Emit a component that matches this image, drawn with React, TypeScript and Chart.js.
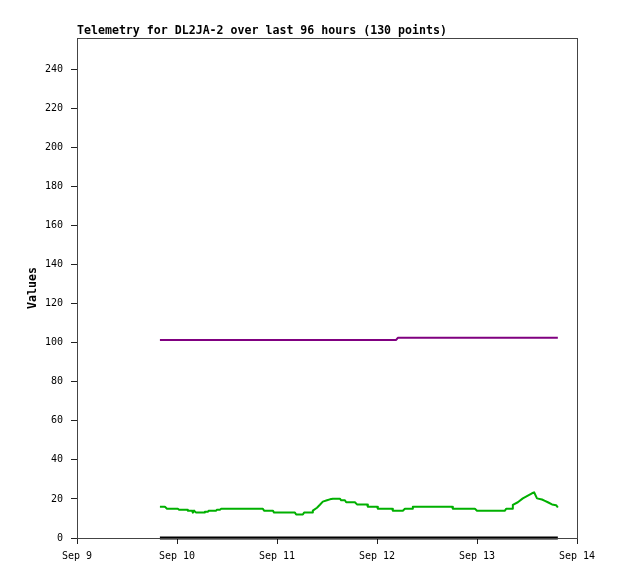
import { useEffect, useRef } from "react";
import { Chart, registerables } from "chart.js";

Chart.register(...registerables);

const chartTitle = "Telemetry for DL2JA-2 over last 96 hours (130 points)";
const yAxisTitle = "Values";
const firstDay = 9;
const monthName = "Sep";

// hours since Sep 9 00:00
const greenHours = [
  19.9, 21.1, 21.6, 24.2, 24.5, 26.4, 26.6, 27.6, 27.8, 28.1, 28.6, 30.5, 30.7, 31.4, 31.7, 33.4,
  33.6, 34.3, 34.6, 44.6, 44.9, 47.0, 47.3, 52.3, 52.6, 54.2, 54.5, 56.4, 56.6, 57.6, 58.3, 59.0,
  60.0, 60.7, 61.4, 63.1, 63.4, 64.3, 64.6, 66.7, 67.2, 69.6, 69.8, 72.0, 72.2, 75.6, 75.8, 78.2,
  78.7, 80.4, 80.6, 90.0, 90.2, 95.5, 96.0, 102.7, 103.0, 104.4, 104.6, 105.8, 107.0, 108.2, 109.2,
  109.7, 110.4, 111.6, 112.3, 113.0, 114.0, 115.0, 115.4,
];
const greenValues = [
  16, 16, 15, 15, 14.5, 14.5, 14, 14, 13, 14, 13, 13, 13.5, 13.5, 14, 14,
  14.5, 14.5, 15, 15, 14, 14, 13, 13, 12, 12, 13, 13, 14, 15.5, 17, 18.6,
  19.3, 19.8, 20.1, 20.1, 19.3, 19.3, 18.3, 18.3, 17.2, 17.2, 16, 16, 15, 15, 14, 14,
  15, 15, 16, 16, 15, 15, 14, 14, 15, 15, 17, 18.3, 20.3, 21.7, 22.9,
  23.4, 20.3, 19.7, 19, 18.3, 17.2, 16.8, 15.6,
];
const purpleHours = [19.9, 76.6, 77.0, 115.4];
const purpleValues = [101.4, 101.4, 102.5, 102.5];
const blackHours = [19.9, 115.4];
const blackValues = [0, 0];

const yTicksStep = 20;
const yMax = 256;
const xMaxHours = 120;

const toPoints = (xs: number[], ys: number[]) => xs.map((x, i) => ({ x, y: ys[i] }));

const FONT = "'DejaVu Sans Mono', 'Liberation Mono', monospace";

export default function App() {
  const ref = useRef<HTMLCanvasElement | null>(null);

  useEffect(() => {
    document.body.style.margin = "0";
    const canvas = ref.current;
    if (!canvas) return;

    const decor = {
      id: "decor",
      afterDraw(chart: any) {
        const { ctx, chartArea } = chart;
        ctx.save();
        ctx.strokeStyle = "#444";
        ctx.lineWidth = 1;
        ctx.strokeRect(chartArea.left + 0.5, chartArea.top + 0.5, chartArea.right - chartArea.left, chartArea.bottom - chartArea.top);
        ctx.fillStyle = "#000";
        ctx.font = `bold 11.6px ${FONT}`;
        ctx.textAlign = "left";
        ctx.textBaseline = "alphabetic";
        ctx.fillText(chartTitle, chartArea.left, chartArea.top - 4);
        ctx.translate(36, (chartArea.top + chartArea.bottom) / 2);
        ctx.rotate(-Math.PI / 2);
        ctx.textAlign = "center";
        ctx.fillText(yAxisTitle, 0, 0);
        ctx.restore();
      },
    };

    const chart = new Chart(canvas, {
      type: "line",
      data: {
        datasets: [
          { data: toPoints(purpleHours, purpleValues), borderColor: "#800080", borderWidth: 2 },
          { data: toPoints(greenHours, greenValues), borderColor: "#00b000", borderWidth: 2 },
          { data: toPoints(blackHours, blackValues), borderColor: "#000000", borderWidth: 3 },
        ] as any,
      },
      options: {
        animation: false,
        responsive: false,
        clip: false as any,
        parsing: false as any,
        elements: {
          point: { radius: 0 },
          line: { tension: 0, borderJoinStyle: "round", borderCapStyle: "butt" },
        },
        layout: { padding: { top: 38, right: 41, left: 0, bottom: 0 } },
        plugins: { legend: { display: false }, title: { display: false }, tooltip: { enabled: false } },
        scales: {
          x: {
            type: "linear",
            min: 0,
            max: xMaxHours,
            afterFit: (s: any) => { s.height = 41; },
            grid: { drawOnChartArea: false, drawTicks: true, tickLength: 6, color: "#222" },
            border: { display: true, color: "#222" },
            ticks: {
              stepSize: 24,
              includeBounds: false,
              maxRotation: 0,
              padding: 6,
              color: "#000",
              font: { family: FONT, size: 10 },
              callback: (v: any) => `${monthName} ${firstDay + Math.round(Number(v) / 24)}`,
            },
          },
          y: {
            type: "linear",
            min: 0,
            max: yMax,
            afterFit: (s: any) => { s.width = 77; },
            grid: { drawOnChartArea: false, drawTicks: true, tickLength: 6, color: "#222" },
            border: { display: true, color: "#222" },
            ticks: {
              stepSize: yTicksStep,
              includeBounds: false,
              padding: 8,
              color: "#000",
              font: { family: FONT, size: 10 },
            },
          },
        },
      } as any,
      plugins: [decor],
    });
    return () => chart.destroy();
  }, []);

  return <canvas ref={ref} width={618} height={579} style={{ display: "block", width: 618, height: 579 }} />;
}
